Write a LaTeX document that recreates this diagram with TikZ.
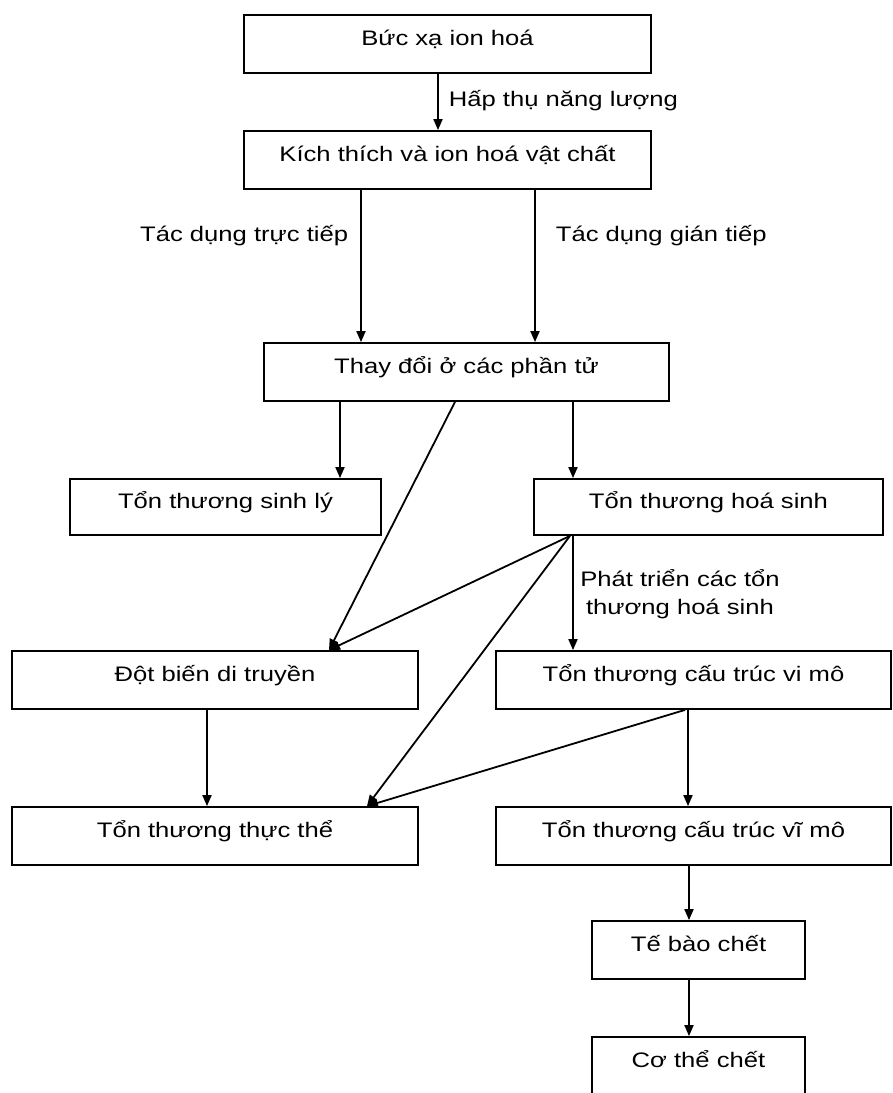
\documentclass[tikz,border=0pt]{standalone}
\usepackage{fontspec}
\setmainfont{Liberation Sans}[FakeStretch=1.22]
\usetikzlibrary{arrows.meta}

\begin{document}
\begin{tikzpicture}[x=1pt, y=-1pt, line width=1.8pt,
        every node/.style={align=center, font=\fontsize{21}{28}\selectfont},
        hop/.style={draw, inner sep=0pt, minimum height=58pt, text height=15pt, text depth=12pt},
        arr/.style={-{Triangle[length=11pt,width=9pt]}},
        lbl/.style={inner sep=0pt}]

    \useasboundingbox (0,0) rectangle (893,1093);
    \clip (0,0) rectangle (893,1093);

    % Hop
    \node[hop, minimum width=407pt] (bucxa) at (447.5,44) {Bức xạ ion hoá};
    \node[hop, minimum width=407pt] (kichthich) at (447.5,160) {Kích thích và ion hoá vật chất};
    \node[hop, minimum width=405pt] (thaydoi) at (466.5,372) {Thay đổi ở các phần tử};
    \node[hop, minimum width=311pt, minimum height=56pt] (sinhly) at (225.5,507) {Tổn thương sinh lý};
    \node[hop, minimum width=349pt, minimum height=56pt] (hoasinh) at (708.5,507) {Tổn thương hoá sinh};
    \node[hop, minimum width=406pt] (dotbien) at (215,680) {Đột biến di truyền};
    \node[hop, minimum width=395pt] (vimo) at (693.5,680) {Tổn thương cấu trúc vi mô};
    \node[hop, minimum width=406pt] (thucthe) at (215,836) {Tổn thương thực thể};
    \node[hop, minimum width=395pt] (vimo2) at (693.5,836) {Tổn thương cấu trúc vĩ mô};
    \node[hop, minimum width=213pt] (tebao) at (698.5,950) {Tế bào chết};
    \node[hop, minimum width=213pt] (cothe) at (698.5,1066) {Cơ thể chết};

    % Nhan
    \node[lbl, anchor=base west] (hapthu) at (448,106) {Hấp thụ năng lượng};
    \node[lbl, anchor=base east] (tructiep) at (349,241) {Tác dụng trực tiếp};
    \node[lbl, anchor=base west] (giantiep) at (555,241) {Tác dụng gián tiếp};
    \node[lbl] (phattrien) at (680,594) {Phát triển các tổn\\thương hoá sinh};

    % Mui ten doc
    \draw[arr] (bucxa.south -| 438,0) -- (kichthich.north -| 438,0);
    \draw[arr] (kichthich.south -| 361,0) -- (thaydoi.north -| 361,0);
    \draw[arr] (kichthich.south -| 535,0) -- (thaydoi.north -| 535,0);
    \draw[arr] (thaydoi.south -| 340,0) -- (sinhly.north -| 340,0);
    \draw[arr] (thaydoi.south -| 573,0) -- (hoasinh.north -| 573,0);
    \draw[arr] (hoasinh.south -| 573,0) -- (vimo.north -| 573,0);
    \draw[arr] (dotbien.south -| 207,0) -- (thucthe.north -| 207,0);
    \draw[arr] (vimo.south -| 688,0) -- (vimo2.north -| 688,0);
    \draw[arr] (vimo2.south -| 689,0) -- (tebao.north -| 689,0);
    \draw[arr] (tebao.south -| 689,0) -- (cothe.north -| 689,0);

    % Mui ten cheo
    \draw[arr] (thaydoi.south -| 455,0) -- (dotbien.north -| 329,0);
    \draw[arr] (hoasinh.south -| 570,0) -- (dotbien.north -| 329,0);
    \draw[arr] (hoasinh.south -| 570,0) -- (thucthe.north -| 367,0);
    \draw[arr] (vimo.south -| 685,0) -- (thucthe.north -| 367,0);

\end{tikzpicture}
\end{document}
